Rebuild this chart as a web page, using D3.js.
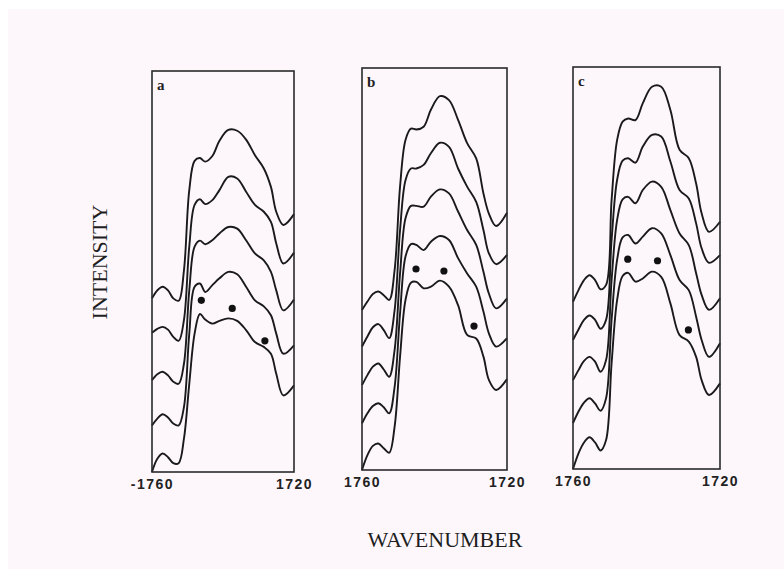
<!DOCTYPE html>
<html>
<head>
<meta charset="utf-8">
<script src="https://cdn.jsdelivr.net/npm/d3@7"></script>
<style>
  body { margin: 0; background: #fff; }
  .curve { fill: none; stroke: #1a1a1a; stroke-width: 1.9; stroke-linejoin: round; }
  .box { fill: none; stroke: #2a2a2a; stroke-width: 1.6; }
  .dot { fill: #111; }
  .tick text { font-family: "Liberation Sans", Arial, sans-serif; font-weight: bold; font-size: 14px; letter-spacing: 1.5px; fill: #222; }
  .letter { font-family: "Liberation Serif", serif; font-weight: bold; font-size: 15px; fill: #222; }
  .title { font-family: "Liberation Serif", serif; font-size: 22px; fill: #1e1e1e; }
</style>
</head>
<body>
<div id="chart"></div>
<script>
const width = 784;
const height = 569;

// shared wavenumber grid (cm-1), read left -> right
const wavenumbers = [1760, 1758.5, 1757, 1755.5, 1754, 1752.5, 1751, 1749.5, 1748, 1746.5, 1745,
                     1743, 1741, 1738.5, 1736, 1733.5, 1731, 1728.5, 1726.5, 1725, 1723, 1720];

// intensities, top trace first (arbitrary units, 0..100 of panel height)
const spectraA = [
  [43.3, 45.3, 46.2, 45.3, 43.3, 42.7, 50.3, 70.3, 77.6, 78.3, 77.4, 78.8, 82.6, 85.3, 85.1, 82.9, 79.0, 75.7, 71.1, 64.9, 61.6, 64.3],
  [34.7, 35.7, 36.2, 35.5, 33.7, 32.7, 37.9, 56.2, 66.6, 68.0, 66.8, 67.8, 70.3, 73.6, 73.2, 69.9, 66.6, 64.9, 62.4, 57.0, 52.0, 54.7],
  [22.9, 24.4, 25.0, 24.1, 22.5, 22.0, 27.0, 45.3, 56.2, 57.7, 56.8, 57.8, 59.5, 61.1, 60.7, 57.8, 54.5, 52.8, 49.9, 45.3, 40.3, 43.0],
  [11.6, 13.3, 14.4, 13.6, 12.1, 11.6, 16.2, 34.5, 46.2, 47.0, 44.9, 46.6, 48.3, 49.9, 49.3, 46.2, 42.8, 41.3, 39.1, 34.5, 29.5, 31.6],
  [0.0, 3.3, 4.6, 3.7, 2.2, 2.2, 8.3, 22.0, 34.5, 39.4, 38.0, 37.0, 37.7, 38.3, 37.7, 35.4, 32.4, 31.2, 29.5, 24.5, 19.1, 21.6]
];
const spectraB = [
  [39.8, 41.9, 43.8, 44.4, 43.5, 42.3, 49.8, 70.5, 82.1, 84.9, 84.7, 85.4, 89.6, 93.0, 92.0, 87.1, 81.3, 77.5, 68.8, 63.8, 60.7, 64.0],
  [30.7, 33.2, 35.5, 36.3, 34.8, 32.8, 39.8, 59.7, 72.1, 75.0, 75.0, 75.9, 78.8, 81.4, 80.4, 75.0, 70.5, 66.7, 59.7, 53.9, 51.2, 53.5],
  [21.1, 23.6, 25.7, 26.5, 25.0, 23.2, 29.9, 48.9, 62.6, 65.7, 65.7, 65.5, 68.0, 69.8, 68.8, 64.3, 59.7, 56.0, 49.3, 43.9, 40.2, 42.7],
  [11.6, 14.1, 15.9, 16.6, 15.6, 14.1, 20.7, 39.0, 53.1, 56.2, 56.0, 54.7, 56.8, 58.2, 57.2, 52.7, 48.9, 45.6, 39.4, 34.0, 30.7, 32.8],
  [0.0, 3.7, 6.0, 6.6, 5.4, 4.3, 10.8, 28.2, 42.3, 46.6, 46.8, 45.2, 45.6, 47.1, 45.6, 41.0, 33.6, 32.7, 28.2, 22.4, 19.9, 22.6]
];
const spectraC = [
  [41.6, 44.5, 47.0, 48.2, 47.0, 44.7, 45.8, 66.9, 81.8, 86.4, 87.2, 86.8, 91.0, 95.1, 95.1, 89.3, 79.4, 77.3, 71.0, 63.6, 59.0, 61.5],
  [32.1, 34.7, 37.1, 38.2, 37.1, 34.9, 37.1, 57.0, 71.9, 76.7, 77.3, 76.2, 80.2, 83.1, 82.7, 76.5, 69.4, 67.3, 61.1, 54.9, 51.3, 53.2],
  [22.1, 24.6, 26.9, 27.9, 26.7, 24.2, 27.1, 47.0, 61.9, 67.1, 67.7, 66.1, 69.4, 71.5, 70.2, 64.4, 58.6, 55.7, 48.7, 43.3, 39.6, 42.5],
  [11.4, 14.3, 16.5, 17.6, 16.3, 14.5, 17.6, 37.1, 52.0, 57.6, 58.2, 56.1, 57.8, 59.9, 58.6, 53.2, 47.0, 44.5, 37.9, 32.1, 27.9, 31.3],
  [0.0, 3.9, 6.6, 7.9, 6.6, 4.6, 7.2, 26.3, 42.0, 48.0, 48.8, 46.6, 47.4, 49.1, 47.8, 41.2, 33.3, 31.7, 27.9, 22.1, 18.4, 21.3]
];

// marked band positions [wavenumber, intensity]
const dotsA = [[1746.1, 42.8], [1737.4, 40.8], [1728.2, 32.7]];
const dotsB = [[1745.1, 50.0], [1737.4, 49.5], [1729.1, 35.8]];
const dotsC = [[1745.1, 52.2], [1737.0, 51.8], [1728.6, 34.6]];

const tickValues = [1760, 1720];
const tickLabelsA = ["-1760", "1720"];
const tickLabelsB = ["1760", "1720"];
const tickLabelsC = ["1760", "1720"];

const panels = [
  { letter: "a", spectra: spectraA, dots: dotsA, labels: tickLabelsA, x0: 152, x1: 294, y0: 71, y1: 472 },
  { letter: "b", spectra: spectraB, dots: dotsB, labels: tickLabelsB, x0: 362, x1: 507, y0: 68, y1: 470 },
  { letter: "c", spectra: spectraC, dots: dotsC, labels: tickLabelsC, x0: 573, x1: 720, y0: 67, y1: 469 }
];

const svg = d3.select("#chart").append("svg")
    .attr("width", width)
    .attr("height", height);

// scanned page background
svg.append("rect")
    .attr("x", 8).attr("y", 9)
    .attr("width", width - 8).attr("height", height - 9)
    .attr("fill", "#fdf7fc");

function drawPanel(p) {
  const x = d3.scaleLinear().domain([1760, 1720]).range([p.x0, p.x1]);
  const y = d3.scaleLinear().domain([0, 100]).range([p.y1, p.y0]);
  const g = svg.append("g").attr("class", "panel");

  const line = d3.line()
      .x((d, i) => x(wavenumbers[i]))
      .y(d => y(d))
      .curve(d3.curveCatmullRom.alpha(0.5));

  g.selectAll("path.curve")
    .data(p.spectra)
    .join("path")
      .attr("class", "curve")
      .attr("d", line);

  g.append("rect")
      .attr("class", "box")
      .attr("x", p.x0).attr("y", p.y0)
      .attr("width", p.x1 - p.x0).attr("height", p.y1 - p.y0);

  g.selectAll("circle.dot")
    .data(p.dots)
    .join("circle")
      .attr("class", "dot")
      .attr("cx", d => x(d[0]))
      .attr("cy", d => y(d[1]))
      .attr("r", 3.6);

  g.append("text")
      .attr("class", "letter")
      .attr("x", p.x0 + 5)
      .attr("y", p.y0 + 19)
      .text(p.letter);

  const axis = g.append("g")
      .attr("transform", `translate(0,${p.y1})`)
      .call(d3.axisBottom(x)
        .tickValues(tickValues)
        .tickSize(0)
        .tickPadding(7)
        .tickFormat((d, i) => p.labels[i]));
  axis.select(".domain").remove();
}

panels.forEach(drawPanel);

svg.append("text")
    .attr("class", "title")
    .attr("text-anchor", "middle")
    .attr("transform", "translate(107,262) rotate(-90)")
    .text("INTENSITY");

svg.append("text")
    .attr("class", "title")
    .attr("text-anchor", "middle")
    .attr("x", 445)
    .attr("y", 547)
    .text("WAVENUMBER");
</script>
</body>
</html>
